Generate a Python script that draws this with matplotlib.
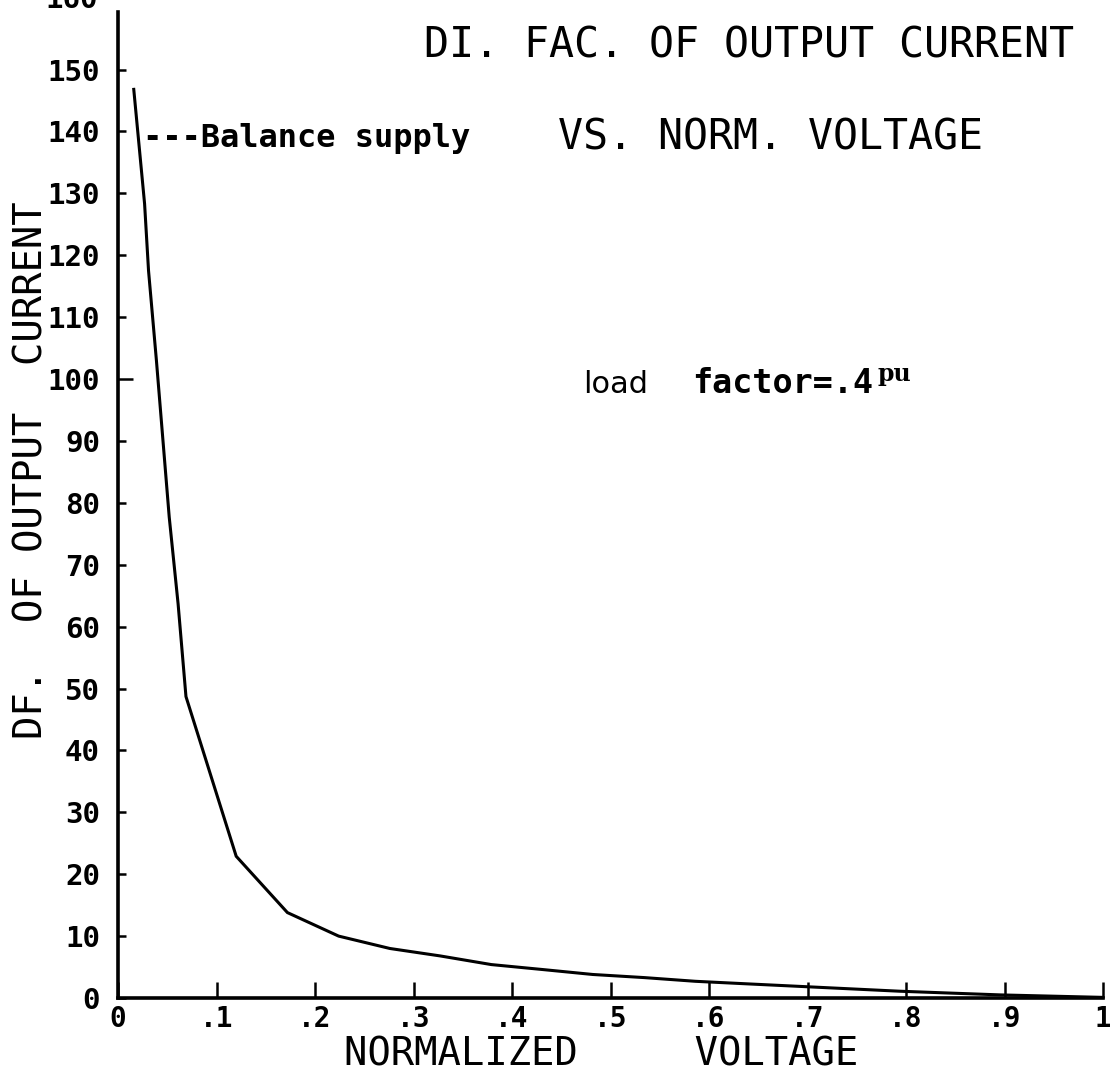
import matplotlib
matplotlib.use("Agg")
import matplotlib.pyplot as plt
import numpy as np

# normalized voltage vs distortion factor of output current (balance supply)
volt = [0.016, 0.027, 0.031, 0.039, 0.052, 0.061, 0.069, 0.120, 0.172, 0.224,
        0.276, 0.327, 0.379, 0.431, 0.482, 0.534, 0.586, 0.637, 0.689, 0.741,
        0.793, 0.844, 0.896, 0.948, 1.0]
df_cur = [146.8, 128.3, 117.5, 103.0, 77.7, 63.7, 48.7, 22.9, 13.8, 10.0,
          8.0, 6.8, 5.4, 4.6, 3.8, 3.3, 2.7, 2.3, 1.9, 1.5,
          1.1, 0.8, 0.5, 0.3, 0.1]

xticks = [0, 0.1, 0.2, 0.3, 0.4, 0.5, 0.6, 0.7, 0.8, 0.9, 1.0]
xticklabels = ["0", ".1", ".2", ".3", ".4", ".5", ".6", ".7", ".8", ".9", "1"]
yticks = list(range(0, 160, 10))

W, H = 1110, 1078
fig = plt.figure(figsize=(W / 100, H / 100), dpi=100)
ax = fig.add_axes([118 / W, 1 - 998 / H, (1103 - 118) / W, (998 - 12) / H])

ax.plot(volt, df_cur, color="black", lw=2.2, solid_joinstyle="miter")

ax.set_xlim(0, 1.0)
ax.set_ylim(0, 159.3)
for s in ["top", "right"]:
    ax.spines[s].set_visible(False)
for s in ["left", "bottom"]:
    ax.spines[s].set_linewidth(2.6)

mono = "DejaVu Sans Mono"
ax.set_xticks(xticks)
ax.set_xticklabels(xticklabels, family=mono, fontweight="bold", fontsize=20)
ax.set_yticks(yticks)
ax.set_yticklabels([str(v) for v in yticks], family=mono, fontweight="bold", fontsize=21)
ax.tick_params(axis="x", direction="in", length=11.5, width=1.8, pad=5)
ax.tick_params(axis="y", direction="in", length=6, width=1.8, pad=13)
# the 100 tick is drawn longer on the original plot
ax.yaxis.get_major_ticks()[yticks.index(100)].tick1line.set_markersize(10.5)

# partially cut-off 160 label at the very top
ax.text(-0.02, 161.2, "160", transform=ax.get_yaxis_transform(), ha="right",
        va="center", family=mono, fontweight="bold", fontsize=21, clip_on=False)

# axis labels
fig.text(601 / W, 1 - 1055 / H, "NORMALIZED     VOLTAGE", family=mono,
         fontsize=28, ha="center", va="center")
fig.text(32 / W, 1 - 470 / H, "DF.  OF OUTPUT  CURRENT", family=mono,
         fontsize=28, rotation=90, ha="center", va="center")

# title and annotations
fig.text(749 / W, 1 - 45 / H, "DI. FAC. OF OUTPUT CURRENT", family=mono,
         fontsize=30, ha="center", va="center")
fig.text(771 / W, 1 - 137 / H, "VS. NORM. VOLTAGE", family=mono,
         fontsize=30, ha="center", va="center")
fig.text(143 / W, 1 - 138 / H, "---Balance supply", family=mono,
         fontweight="bold", fontsize=23, ha="left", va="center")

fig.text(583 / W, 1 - 393 / H, "load", fontsize=22, ha="left", va="baseline")
fig.text(692 / W, 1 - 393 / H, "factor=.4", family=mono, fontweight="bold",
         fontsize=24, ha="left", va="baseline")
fig.text(877 / W, 1 - 381 / H, "pu", family="DejaVu Serif", fontweight="bold",
         fontsize=17, ha="left", va="baseline")

fig.savefig("out.png", dpi=100)
